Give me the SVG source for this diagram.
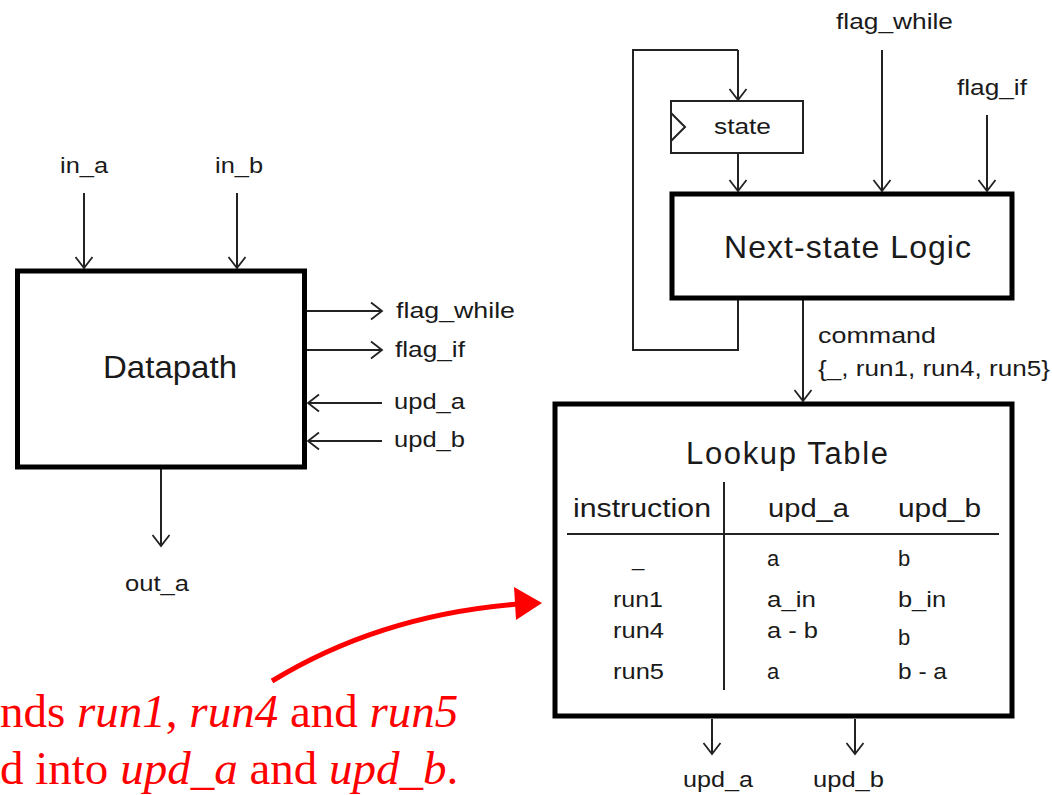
<svg xmlns="http://www.w3.org/2000/svg" width="1052" height="795" viewBox="0 0 1052 795">
  <defs>
    <marker id="arr" viewBox="-13 -10 15 20" refX="0" refY="0" markerWidth="15" markerHeight="20" markerUnits="userSpaceOnUse" orient="auto">
      <path d="M-11,-8.5 L0,0 L-11,8.5" fill="none" stroke="#222" stroke-width="1.8"/>
    </marker>
    <style>
      .box { fill: #fff; stroke: #000; stroke-width: 5; }
      .thin { fill: #fff; stroke: #222; stroke-width: 2; }
      .wire { fill: none; stroke: #222; stroke-width: 2; }
      .arrow { fill: none; stroke: #222; stroke-width: 2; marker-end: url(#arr); }
      .lbl { font-family: "Liberation Sans", Arial, sans-serif; fill: #1a1a1a; font-size: 22px; }
      .sm { font-size: 22px; }
      .big { font-size: 32px; }
      .title { font-size: 31px; }
      .hdr { font-size: 26px; }
      .note { font-family: "Liberation Serif", "Times New Roman", serif; font-size: 47px; fill: #ff0000; }
      .it { font-style: italic; }
    </style>
  </defs>

  <rect width="1052" height="795" fill="#fff"/>

  <!-- connectors -->
  <g id="connectors">
    <!-- datapath inputs / outputs -->
    <line class="arrow" x1="84" y1="193" x2="84" y2="268"/>
    <line class="arrow" x1="237" y1="193" x2="237" y2="268"/>
    <line class="arrow" x1="307" y1="311" x2="382" y2="311"/>
    <line class="arrow" x1="307" y1="350" x2="382" y2="350"/>
    <line class="arrow" x1="382" y1="403" x2="308" y2="403"/>
    <line class="arrow" x1="382" y1="441" x2="308" y2="441"/>
    <line class="arrow" x1="161" y1="469" x2="161" y2="546"/>

    <!-- state feedback loop -->
    <polyline class="wire" points="738,299 738,350 633,350 633,50 738,50"/>
    <line class="arrow" x1="738" y1="50" x2="738" y2="100"/>
    <line class="arrow" x1="738" y1="153" x2="738" y2="191"/>

    <!-- flag inputs to next-state logic -->
    <line class="arrow" x1="882" y1="50" x2="882" y2="191"/>
    <line class="arrow" x1="987" y1="115" x2="987" y2="191"/>

    <!-- command bus -->
    <line class="arrow" x1="803" y1="299" x2="803" y2="401"/>

    <!-- lookup table outputs -->
    <line class="arrow" x1="712" y1="719" x2="712" y2="754"/>
    <line class="arrow" x1="855" y1="719" x2="855" y2="754"/>

    <!-- annotation arrow -->
    <path d="M272,681 Q380,615 518,604" fill="none" stroke="#ff0000" stroke-width="5"/>
    <polygon points="542,603 514,587 516,620" fill="#ff0000"/>
  </g>

  <!-- datapath block -->
  <g id="datapath">
    <rect class="box" x="17.5" y="271" width="287" height="196"/>
    <text class="lbl big" x="103" y="378" textLength="134" lengthAdjust="spacingAndGlyphs">Datapath</text>
    <text class="lbl" x="60" y="173" textLength="48" lengthAdjust="spacingAndGlyphs">in_a</text>
    <text class="lbl" x="215" y="173" textLength="48" lengthAdjust="spacingAndGlyphs">in_b</text>
    <text class="lbl" x="396" y="318" textLength="119" lengthAdjust="spacingAndGlyphs">flag_while</text>
    <text class="lbl" x="395" y="357" textLength="70" lengthAdjust="spacingAndGlyphs">flag_if</text>
    <text class="lbl" x="394" y="409" textLength="71" lengthAdjust="spacingAndGlyphs">upd_a</text>
    <text class="lbl" x="394" y="447" textLength="71" lengthAdjust="spacingAndGlyphs">upd_b</text>
    <text class="lbl" x="125" y="591" textLength="64" lengthAdjust="spacingAndGlyphs">out_a</text>
  </g>

  <!-- state register -->
  <g id="state">
    <rect class="thin" x="671" y="101" width="132" height="52"/>
    <polyline class="wire" points="671,113 685,127 671,141"/>
    <text class="lbl sm" x="714" y="134" textLength="57" lengthAdjust="spacingAndGlyphs">state</text>
  </g>

  <!-- next-state logic -->
  <g id="next-state-logic">
    <rect class="box" x="672" y="194" width="340" height="104"/>
    <text class="lbl big" x="724" y="258" textLength="247" lengthAdjust="spacing">Next-state Logic</text>
    <text class="lbl" x="836" y="29" textLength="117" lengthAdjust="spacingAndGlyphs">flag_while</text>
    <text class="lbl" x="957" y="95" textLength="70" lengthAdjust="spacingAndGlyphs">flag_if</text>
    <text class="lbl sm" x="818" y="343" textLength="118" lengthAdjust="spacingAndGlyphs">command</text>
    <text class="lbl sm" x="818" y="376" textLength="232" lengthAdjust="spacingAndGlyphs">{_, run1, run4, run5}</text>
  </g>

  <!-- lookup table -->
  <g id="lookup-table">
    <rect class="box" x="555" y="404" width="457" height="312"/>
    <text class="lbl title" x="686" y="464" textLength="202" lengthAdjust="spacing">Lookup Table</text>
    <line class="wire" x1="567" y1="534" x2="999" y2="534"/>
    <line class="wire" x1="724" y1="482" x2="724" y2="690"/>
    <text class="lbl hdr" x="573" y="517" textLength="138" lengthAdjust="spacingAndGlyphs">instruction</text>
    <text class="lbl hdr" x="768" y="517" textLength="81" lengthAdjust="spacingAndGlyphs">upd_a</text>
    <text class="lbl hdr" x="898" y="517" textLength="83" lengthAdjust="spacingAndGlyphs">upd_b</text>

    <text class="lbl" x="632" y="566">_</text>
    <text class="lbl" x="767" y="566">a</text>
    <text class="lbl" x="898" y="566">b</text>

    <text class="lbl" x="613" y="607" textLength="50" lengthAdjust="spacingAndGlyphs">run1</text>
    <text class="lbl" x="767" y="607" textLength="49" lengthAdjust="spacingAndGlyphs">a_in</text>
    <text class="lbl" x="898" y="607" textLength="48" lengthAdjust="spacingAndGlyphs">b_in</text>

    <text class="lbl" x="613" y="638" textLength="51" lengthAdjust="spacingAndGlyphs">run4</text>
    <text class="lbl" x="767" y="638" textLength="51" lengthAdjust="spacingAndGlyphs">a - b</text>
    <text class="lbl" x="898" y="645">b</text>

    <text class="lbl" x="613" y="679" textLength="51" lengthAdjust="spacingAndGlyphs">run5</text>
    <text class="lbl" x="767" y="679">a</text>
    <text class="lbl" x="898" y="679" textLength="49" lengthAdjust="spacingAndGlyphs">b - a</text>

    <text class="lbl" x="683" y="787" textLength="70" lengthAdjust="spacingAndGlyphs">upd_a</text>
    <text class="lbl" x="813" y="787" textLength="71" lengthAdjust="spacingAndGlyphs">upd_b</text>
  </g>

  <!-- red annotation -->
  <g id="note">
    <text class="note" x="0" y="727">nds <tspan class="it">run1</tspan>, <tspan class="it">run4</tspan> and <tspan class="it">run5</tspan></text>
    <text class="note" x="0" y="784">d into <tspan class="it">upd_a</tspan> and <tspan class="it">upd_b</tspan>.</text>
  </g>
</svg>
